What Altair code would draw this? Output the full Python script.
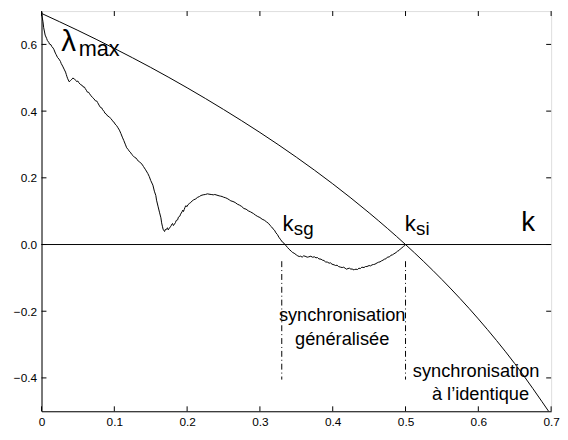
import altair as alt
import pandas as pd

# ---------------- data ----------------
k_vals = [0.000, 0.002, 0.003, 0.005, 0.007, 0.008, 0.010, 0.011, 0.013, 0.014,
          0.016, 0.017, 0.019, 0.020, 0.022, 0.024, 0.026, 0.027, 0.029, 0.031,
          0.033, 0.034, 0.035, 0.036, 0.038, 0.040, 0.041, 0.043, 0.045, 0.047,
          0.048, 0.050, 0.051, 0.053, 0.054, 0.056, 0.057, 0.059, 0.060, 0.062,
          0.063, 0.065, 0.066, 0.068, 0.070, 0.072, 0.074, 0.076, 0.077, 0.079,
          0.081, 0.083, 0.084, 0.086, 0.087, 0.089, 0.091, 0.093, 0.095, 0.097,
          0.098, 0.100, 0.101, 0.103, 0.105, 0.107, 0.109, 0.111, 0.113, 0.115,
          0.117, 0.119, 0.120, 0.122, 0.124, 0.126, 0.128, 0.130, 0.131, 0.133,
          0.135, 0.138, 0.140, 0.143, 0.146, 0.148, 0.150, 0.153, 0.155, 0.157,
          0.158, 0.160, 0.162, 0.164, 0.165, 0.166, 0.167, 0.168, 0.169, 0.170,
          0.171, 0.172, 0.173, 0.174, 0.175, 0.177, 0.178, 0.179, 0.180, 0.181,
          0.182, 0.184, 0.185, 0.187, 0.188, 0.190, 0.191, 0.193, 0.194, 0.195,
          0.196, 0.197, 0.198, 0.200, 0.201, 0.203, 0.205, 0.207, 0.209, 0.212,
          0.214, 0.217, 0.219, 0.222, 0.225, 0.228, 0.230, 0.233, 0.236, 0.238,
          0.241, 0.244, 0.246, 0.248, 0.250, 0.253, 0.255, 0.258, 0.260, 0.263,
          0.266, 0.269, 0.272, 0.275, 0.278, 0.281, 0.284, 0.287, 0.291, 0.294,
          0.297, 0.300, 0.303, 0.306, 0.309, 0.312, 0.314, 0.316, 0.318, 0.320,
          0.322, 0.324, 0.326, 0.328, 0.331, 0.333, 0.336, 0.338, 0.340, 0.343,
          0.345, 0.347, 0.350, 0.352, 0.354, 0.356, 0.358, 0.360, 0.362, 0.365,
          0.367, 0.370, 0.372, 0.375, 0.377, 0.379, 0.381, 0.384, 0.386, 0.388,
          0.390, 0.393, 0.395, 0.397, 0.399, 0.402, 0.404, 0.406, 0.408, 0.411,
          0.413, 0.415, 0.417, 0.419, 0.421, 0.423, 0.425, 0.427, 0.428, 0.430,
          0.432, 0.434, 0.436, 0.438, 0.440, 0.443, 0.445, 0.447, 0.450, 0.452,
          0.454, 0.456, 0.458, 0.461, 0.463, 0.465, 0.467, 0.469, 0.471, 0.473,
          0.475, 0.478, 0.480, 0.482, 0.484, 0.487, 0.489, 0.491, 0.493, 0.495,
          0.497, 0.499, 0.500]
lam_vals = [0.693, 0.668, 0.650, 0.628, 0.618, 0.612, 0.606, 0.601, 0.599, 0.594,
            0.589, 0.585, 0.574, 0.570, 0.561, 0.556, 0.549, 0.543, 0.535, 0.526,
            0.517, 0.510, 0.503, 0.497, 0.488, 0.492, 0.494, 0.499, 0.497, 0.492,
            0.489, 0.490, 0.486, 0.481, 0.479, 0.477, 0.473, 0.472, 0.468, 0.461,
            0.457, 0.456, 0.452, 0.446, 0.441, 0.437, 0.431, 0.430, 0.426, 0.418,
            0.411, 0.409, 0.404, 0.399, 0.394, 0.391, 0.385, 0.383, 0.378, 0.373,
            0.369, 0.366, 0.361, 0.357, 0.350, 0.343, 0.333, 0.322, 0.312, 0.301,
            0.290, 0.285, 0.281, 0.277, 0.270, 0.266, 0.261, 0.259, 0.256, 0.250,
            0.247, 0.241, 0.234, 0.224, 0.213, 0.204, 0.192, 0.178, 0.160, 0.147,
            0.133, 0.115, 0.097, 0.080, 0.065, 0.055, 0.046, 0.042, 0.039, 0.045,
            0.044, 0.048, 0.050, 0.044, 0.047, 0.053, 0.056, 0.061, 0.063, 0.057,
            0.059, 0.066, 0.072, 0.074, 0.082, 0.085, 0.091, 0.098, 0.103, 0.099,
            0.105, 0.111, 0.116, 0.114, 0.119, 0.123, 0.126, 0.131, 0.134, 0.137,
            0.141, 0.144, 0.147, 0.149, 0.150, 0.152, 0.151, 0.150, 0.149, 0.150,
            0.148, 0.146, 0.145, 0.144, 0.142, 0.140, 0.138, 0.134, 0.131, 0.129,
            0.126, 0.121, 0.118, 0.114, 0.108, 0.106, 0.101, 0.098, 0.093, 0.088,
            0.084, 0.081, 0.076, 0.073, 0.068, 0.063, 0.057, 0.053, 0.047, 0.043,
            0.035, 0.030, 0.022, 0.016, 0.007, 0.004, -0.004, -0.009, -0.014, -0.020,
            -0.024, -0.026, -0.031, -0.034, -0.036, -0.035, -0.038, -0.034, -0.035, -0.038,
            -0.037, -0.035, -0.038, -0.037, -0.040, -0.039, -0.043, -0.044, -0.047, -0.048,
            -0.052, -0.053, -0.056, -0.055, -0.059, -0.061, -0.063, -0.062, -0.066, -0.068,
            -0.069, -0.068, -0.071, -0.074, -0.072, -0.071, -0.074, -0.073, -0.076, -0.075,
            -0.074, -0.075, -0.071, -0.072, -0.068, -0.069, -0.066, -0.066, -0.063, -0.064,
            -0.061, -0.060, -0.059, -0.055, -0.053, -0.052, -0.049, -0.047, -0.044, -0.043,
            -0.038, -0.037, -0.032, -0.031, -0.028, -0.024, -0.020, -0.018, -0.013, -0.010,
            -0.006, -0.003, 0.000]

lmax_k = [0.00, 0.05, 0.10, 0.15, 0.20, 0.25, 0.30, 0.35, 0.40, 0.45,
          0.50, 0.55, 0.60, 0.65, 0.70]
lmax_v = [0.693, 0.642, 0.588, 0.531, 0.470, 0.405, 0.336, 0.262, 0.182, 0.095,
          0.000, -0.105, -0.223, -0.357, -0.511]

x_ticks = [0, 0.1, 0.2, 0.3, 0.4, 0.5, 0.6, 0.7]
y_ticks = [-0.4, -0.2, 0.0, 0.2, 0.4, 0.6]

vline_k = [0.33, 0.5]

# ---------------- chart ----------------
W, H = 517, 406
FONT = "Liberation Sans"

xs = alt.Scale(domain=[0, 0.7], nice=False, zero=False)
ys = alt.Scale(domain=[-0.5, 0.7], nice=False, zero=False)
xax = alt.Axis(values=x_ticks, ticks=False, labelPadding=5, grid=False,
               labelExpr="datum.value == 0 ? '0' : format(datum.value, '.1f')",
               title=None, domainColor="black", labelColor="black",
               labelFont=FONT, labelFontSize=12, labelFlush=False)
yax = alt.Axis(values=y_ticks, ticks=False, labelPadding=5, grid=False,
               format=".1f", title=None, domainColor="black", labelColor="black",
               labelFont=FONT, labelFontSize=12, labelFlush=False)


def X(f):
    return alt.X(f, type="quantitative", scale=xs, axis=xax)


def Y(f):
    return alt.Y(f, type="quantitative", scale=ys, axis=yax)


def XD(v):
    return alt.XDatum(v, type="quantitative", scale=xs, axis=xax)


def YD(v):
    return alt.YDatum(v, type="quantitative", scale=ys, axis=yax)


df_curve = pd.DataFrame({"k": k_vals, "lam": lam_vals})
df_lmax = pd.DataFrame({"k": lmax_k, "lam": lmax_v})
df_xt = pd.DataFrame({"t": x_ticks})
df_yt = pd.DataFrame({"t": y_ticks})
df_vl = pd.DataFrame({"k": vline_k})
df_one = pd.DataFrame({"a": [0]})

curve = alt.Chart(df_curve).mark_line(color="black", strokeWidth=1).encode(
    x=X("k"), y=Y("lam"))
lmax = alt.Chart(df_lmax).mark_line(color="black", strokeWidth=1,
                                     interpolate="monotone", clip=True).encode(
    x=X("k"), y=Y("lam"))
zero = alt.Chart(df_one).mark_rule(color="black", strokeWidth=1).encode(y=YD(0))
vlines = alt.Chart(df_vl).mark_rule(color="black", strokeWidth=1,
                                    strokeDash=[6, 3, 1, 3]).encode(
    x=X("k"), y=YD(-0.05), y2=alt.Y2Datum(-0.405))

tick_b = alt.Chart(df_xt).mark_rule(color="black").encode(
    x=X("t"), y=alt.value(H), y2=alt.value(H - 5))
tick_t = alt.Chart(df_xt).mark_rule(color="black").encode(
    x=X("t"), y=alt.value(0), y2=alt.value(5))
tick_l = alt.Chart(df_yt).mark_rule(color="black").encode(
    y=Y("t"), x=alt.value(0), x2=alt.value(5))
tick_r = alt.Chart(df_yt).mark_rule(color="black").encode(
    y=Y("t"), x=alt.value(W), x2=alt.value(W - 5))


def txt(s, k, v, size, align="left"):
    return alt.Chart(df_one).mark_text(text=s, align=align, baseline="alphabetic",
                                       font=FONT, fontSize=size, color="black").encode(
        x=XD(k), y=YD(v))


texts = [
    txt("λ", 0.027, 0.579, 30),
    txt("max", 0.051, 0.565, 22),
    txt("k", 0.331, 0.042, 22.5),
    txt("sg", 0.3466, 0.030, 19),
    txt("k", 0.4990, 0.042, 22.5),
    txt("si", 0.5145, 0.030, 19),
    txt("k", 0.659, 0.041, 28),
    txt("synchronisation", 0.413, -0.229, 18.5, "center"),
    txt("généralisée", 0.413, -0.300, 18.5, "center"),
    txt("synchronisation", 0.597, -0.396, 18.5, "center"),
    txt("à l’identique", 0.603, -0.466, 18.5, "center"),
]

chart = alt.layer(
    zero, lmax, curve, vlines, tick_b, tick_t, tick_l, tick_r, *texts
).properties(
    width=W, height=H,
    autosize=alt.AutoSizeParams(type="none"),
    padding={"left": 34, "top": 0, "right": 9, "bottom": 24},
).configure_view(stroke="black", strokeWidth=1).configure(background="white")

chart.save("out.html", embed_options={"renderer": "svg", "actions": False})
